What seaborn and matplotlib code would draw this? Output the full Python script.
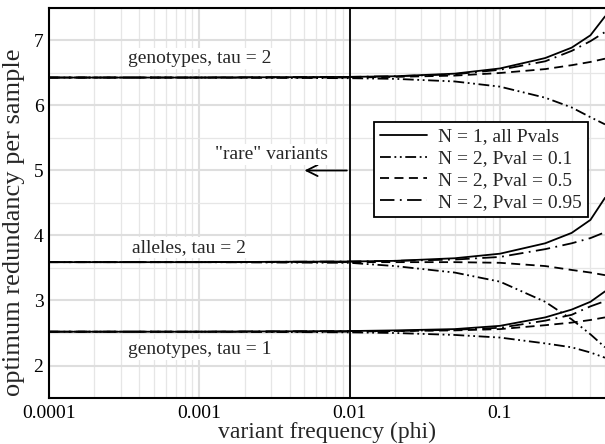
import matplotlib
matplotlib.use("Agg")
import matplotlib.pyplot as plt
import matplotlib.ticker as mticker
import numpy as np
import pandas as pd
import seaborn as sns

# variant frequencies where the curves were evaluated
phi = [0.0001, 0.001, 0.01, 0.02, 0.05, 0.1, 0.2, 0.3, 0.4, 0.5]

series_names = ["N = 1, all Pvals", "N = 2, Pval = 0.1", "N = 2, Pval = 0.5", "N = 2, Pval = 0.95"]

# genotypes, tau = 2
geno2_n1 = [6.43, 6.43, 6.44, 6.45, 6.49, 6.57, 6.73, 6.89, 7.08, 7.37]
geno2_p01 = [6.43, 6.43, 6.42, 6.41, 6.37, 6.29, 6.12, 5.97, 5.82, 5.71]
geno2_p05 = [6.43, 6.43, 6.43, 6.44, 6.46, 6.50, 6.56, 6.62, 6.67, 6.72]
geno2_p095 = [6.43, 6.43, 6.44, 6.45, 6.48, 6.55, 6.68, 6.84, 6.99, 7.13]

# alleles, tau = 2
allele2_n1 = [3.59, 3.59, 3.60, 3.61, 3.65, 3.72, 3.88, 4.04, 4.24, 4.58]
allele2_p01 = [3.59, 3.59, 3.58, 3.53, 3.43, 3.29, 2.98, 2.71, 2.48, 2.28]
allele2_p05 = [3.59, 3.59, 3.59, 3.59, 3.59, 3.58, 3.53, 3.47, 3.43, 3.39]
allele2_p095 = [3.59, 3.59, 3.60, 3.61, 3.63, 3.67, 3.79, 3.88, 3.96, 4.05]

# genotypes, tau = 1
geno1_n1 = [2.52, 2.52, 2.53, 2.54, 2.56, 2.61, 2.74, 2.86, 2.98, 3.14]
geno1_p01 = [2.52, 2.52, 2.51, 2.50, 2.47, 2.43, 2.34, 2.28, 2.20, 2.12]
geno1_p05 = [2.52, 2.52, 2.52, 2.53, 2.54, 2.56, 2.62, 2.66, 2.70, 2.74]
geno1_p095 = [2.52, 2.52, 2.53, 2.53, 2.55, 2.58, 2.69, 2.78, 2.91, 2.99]

groups = {
    "genotypes, tau = 2": [geno2_n1, geno2_p01, geno2_p05, geno2_p095],
    "alleles, tau = 2": [allele2_n1, allele2_p01, allele2_p05, allele2_p095],
    "genotypes, tau = 1": [geno1_n1, geno1_p01, geno1_p05, geno1_p095],
}

rows = []
for g, vals in groups.items():
    for name, v in zip(series_names, vals):
        for x, y in zip(phi, v):
            rows.append((g, name, x, y))
df = pd.DataFrame(rows, columns=["group", "series", "phi", "value"])

sns.set_theme(style="white")
plt.rcParams["font.family"] = ["Liberation Serif", "DejaVu Serif"]

dashes = {
    "N = 1, all Pvals": "",
    "N = 2, Pval = 0.1": (6, 2, 1, 2, 1, 2),
    "N = 2, Pval = 0.5": (5, 3),
    "N = 2, Pval = 0.95": (8, 3, 1, 3),
}

fig = plt.figure(figsize=(6.05, 4.44), dpi=100)
ax = fig.add_axes([49 / 605, 1 - 398 / 444, 1 - 49 / 605, 390 / 444])

for g in groups:
    sub = df[df["group"] == g]
    sns.lineplot(data=sub, x="phi", y="value", style="series", dashes=dashes,
                 style_order=series_names, color="black", linewidth=1.3,
                 legend=False, ax=ax)

ax.set_xscale("log")
ax.set_xlim(0.0001, 0.5)
ax.set_ylim(1.5, 7.5)
ax.xaxis.set_major_locator(mticker.FixedLocator([0.0001, 0.001, 0.01, 0.1]))
ax.xaxis.set_major_formatter(mticker.FixedFormatter(["0.0001", "0.001", "0.01", "0.1"]))
ax.xaxis.set_minor_locator(mticker.LogLocator(base=10, subs=np.arange(2, 10)))
ax.xaxis.set_minor_formatter(mticker.NullFormatter())
ax.yaxis.set_major_locator(mticker.MultipleLocator(1))
ax.yaxis.set_minor_locator(mticker.MultipleLocator(0.5))

ax.grid(which="major", color="#dedede", linewidth=1.5)
ax.grid(which="minor", color="#e6e6e6", linewidth=0.9)
ax.set_axisbelow(True)
ax.tick_params(which="both", length=0, labelsize=14, colors="black")
ax.tick_params(axis="x", pad=5)
ax.tick_params(axis="y", pad=4)

for s in ["left", "bottom", "top"]:
    ax.spines[s].set_color("black")
    ax.spines[s].set_linewidth(1.5)
ax.spines["right"].set_visible(False)

ax.set_xlabel("variant frequency (phi)", fontsize=17)
ax.set_ylabel("optimum redundancy per sample", fontsize=19)
ax.xaxis.set_label_coords(0.5, -0.062)
ax.yaxis.set_label_coords(-0.043, 0.451)

# "rare" variants boundary
ax.axvline(0.01, color="black", linewidth=1.3)
ax.annotate("", xy=(0.0048, 5.0), xytext=(0.01, 5.0),
            arrowprops=dict(arrowstyle="->", color="black", lw=1.3, mutation_scale=20))
box = dict(facecolor="white", edgecolor="none", pad=1.5)
ax.text(0.003, 5.25, '"rare" variants', fontsize=14, ha="center", va="center", bbox=box)

ax.text(0.001, 6.72, "genotypes, tau = 2", fontsize=14, ha="center", va="center", bbox=box)
ax.text(0.00085, 3.81, "alleles, tau = 2", fontsize=14, ha="center", va="center", bbox=box)
ax.text(0.001, 2.25, "genotypes, tau = 1", fontsize=14, ha="center", va="center", bbox=box)

handles = ax.lines[:4]
leg = ax.legend(handles, series_names, loc="upper right", bbox_to_anchor=(539 / 556, 276 / 390),
                borderaxespad=0, fontsize=14, frameon=True, fancybox=False, framealpha=1,
                edgecolor="black", handlelength=2.4, labelspacing=0.22, borderpad=0.3,
                handletextpad=0.6)
leg.get_frame().set_linewidth(1.3)

plt.savefig("out.png", dpi=100)
